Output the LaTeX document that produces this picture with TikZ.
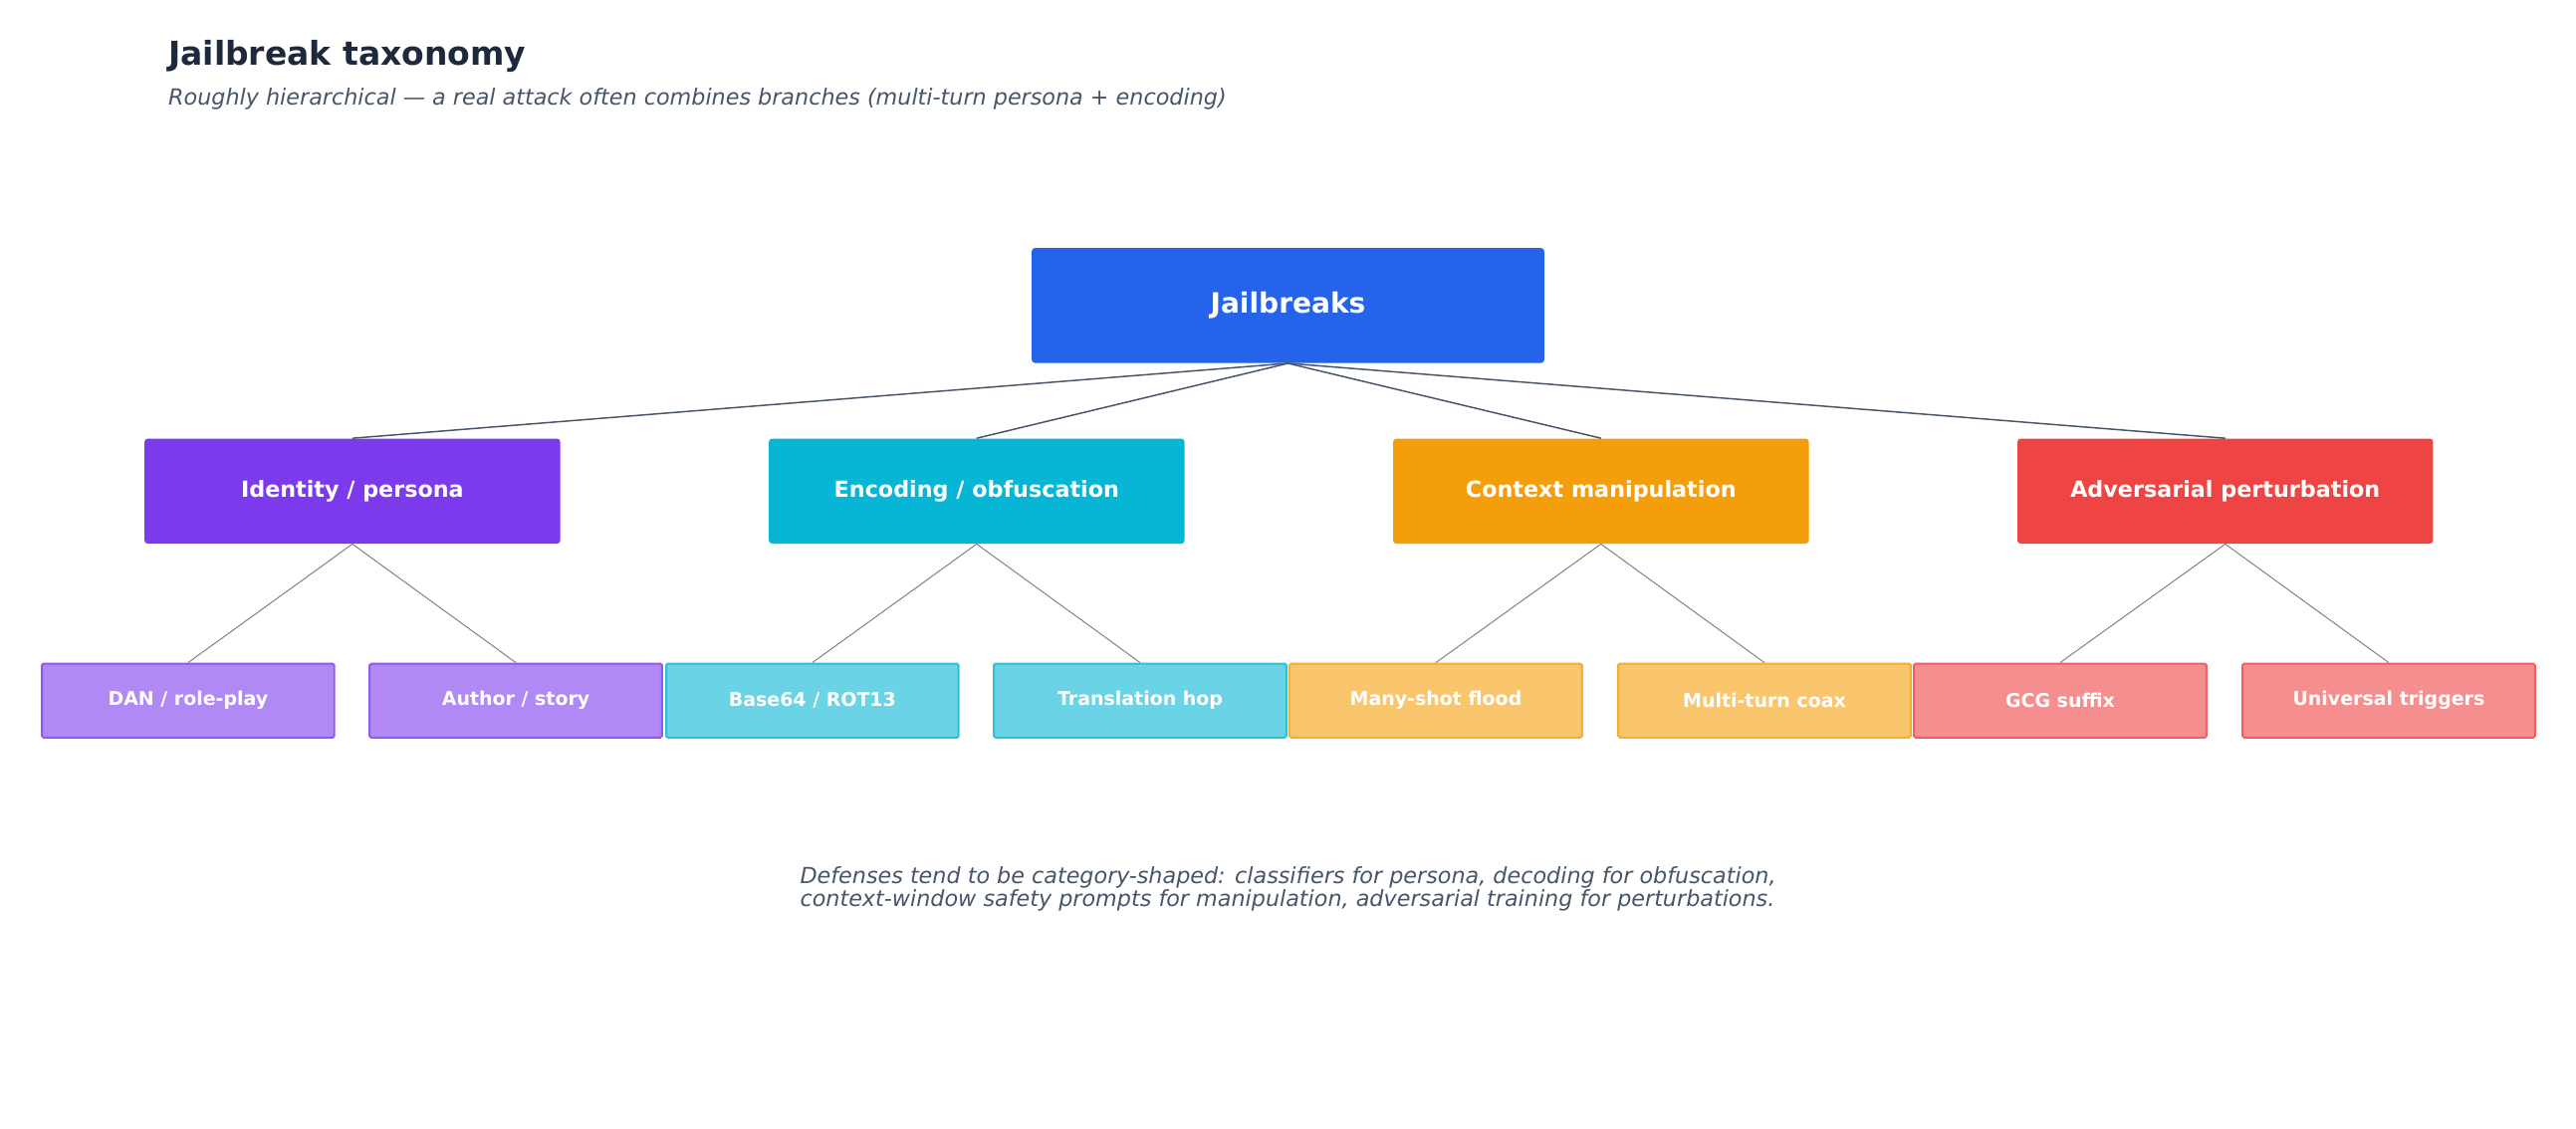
\documentclass[tikz,border=0pt]{standalone}
\usepackage{fontspec}
\setmainfont{DejaVu Sans}
\definecolor{cpurple}{HTML}{7C3AED}
\definecolor{ccyan}{HTML}{06B6D4}
\definecolor{camber}{HTML}{F59E0B}
\definecolor{cred}{HTML}{EF4444}
\definecolor{cblue}{HTML}{2563EB}
\definecolor{ctitle}{HTML}{1E293B}
\definecolor{csub}{HTML}{475569}
\begin{document}
\begin{tikzpicture}[x=1pt,y=-1pt,
  root/.style={fill=cblue,rounded corners=2pt,minimum width=312pt,minimum height=70pt,text=white,font=\fontsize{17}{20}\selectfont\bfseries},
  cat/.style={fill=#1,rounded corners=2pt,minimum width=253pt,minimum height=64pt,text=white,font=\fontsize{13.5}{16}\selectfont\bfseries},
  leaf/.style={fill=#1!60,draw=#1!85,line width=1.2pt,rounded corners=1pt,minimum width=178pt,minimum height=45pt,text=white,font=\fontsize{11.5}{14}\selectfont\bfseries},
  l1/.style={draw=csub,line width=0.9pt},
  l2/.style={draw=gray,line width=0.6pt}]
\useasboundingbox (0,0) rectangle (1568,687.3);
\node[anchor=west,text=ctitle,font=\fontsize{20}{24}\selectfont\bfseries] (title) at (99,34) {Jailbreak taxonomy};
\node[anchor=west,text=csub,font=\fontsize{13.5}{16}\selectfont\itshape] (sub) at (99,60) {Roughly hierarchical — a real attack often combines branches (multi-turn persona + encoding)};
\node[root] (r) at (784,186) {Jailbreaks};
\node[cat=cpurple] (a) at (214.5,299) {Identity / persona};
\node[cat=ccyan] (b) at (594.5,299) {Encoding / obfuscation};
\node[cat=camber] (c) at (974.5,299) {Context manipulation};
\node[cat=cred] (d) at (1354.5,299) {Adversarial perturbation};
\node[leaf=cpurple] (a1) at (114.5,426.5) {DAN / role-play};
\node[leaf=cpurple] (a2) at (314,426.5) {Author / story};
\node[leaf=ccyan] (b1) at (494.5,426.5) {Base64 / ROT13};
\node[leaf=ccyan] (b2) at (694,426.5) {Translation hop};
\node[leaf=camber] (c1) at (874,426.5) {Many-shot flood};
\node[leaf=camber] (c2) at (1074,426.5) {Multi-turn coax};
\node[leaf=cred] (d1) at (1254,426.5) {GCG suffix};
\node[leaf=cred] (d2) at (1454,426.5) {Universal triggers};
\foreach \n in {a,b,c,d} \draw[l1] (r.south) -- (\n.north);
\foreach \p/\q in {a/a1,a/a2,b/b1,b/b2,c/c1,c/c2,d/d1,d/d2} \draw[l2] (\p.south) -- (\q.north);
\node[align=left,text=csub,font=\fontsize{13.5}{14}\selectfont\itshape] (cap) at (784,541) {Defenses tend to be category-shaped: classifiers for persona, decoding for obfuscation,\\context-window safety prompts for manipulation, adversarial training for perturbations.};
\end{tikzpicture}
\end{document}
